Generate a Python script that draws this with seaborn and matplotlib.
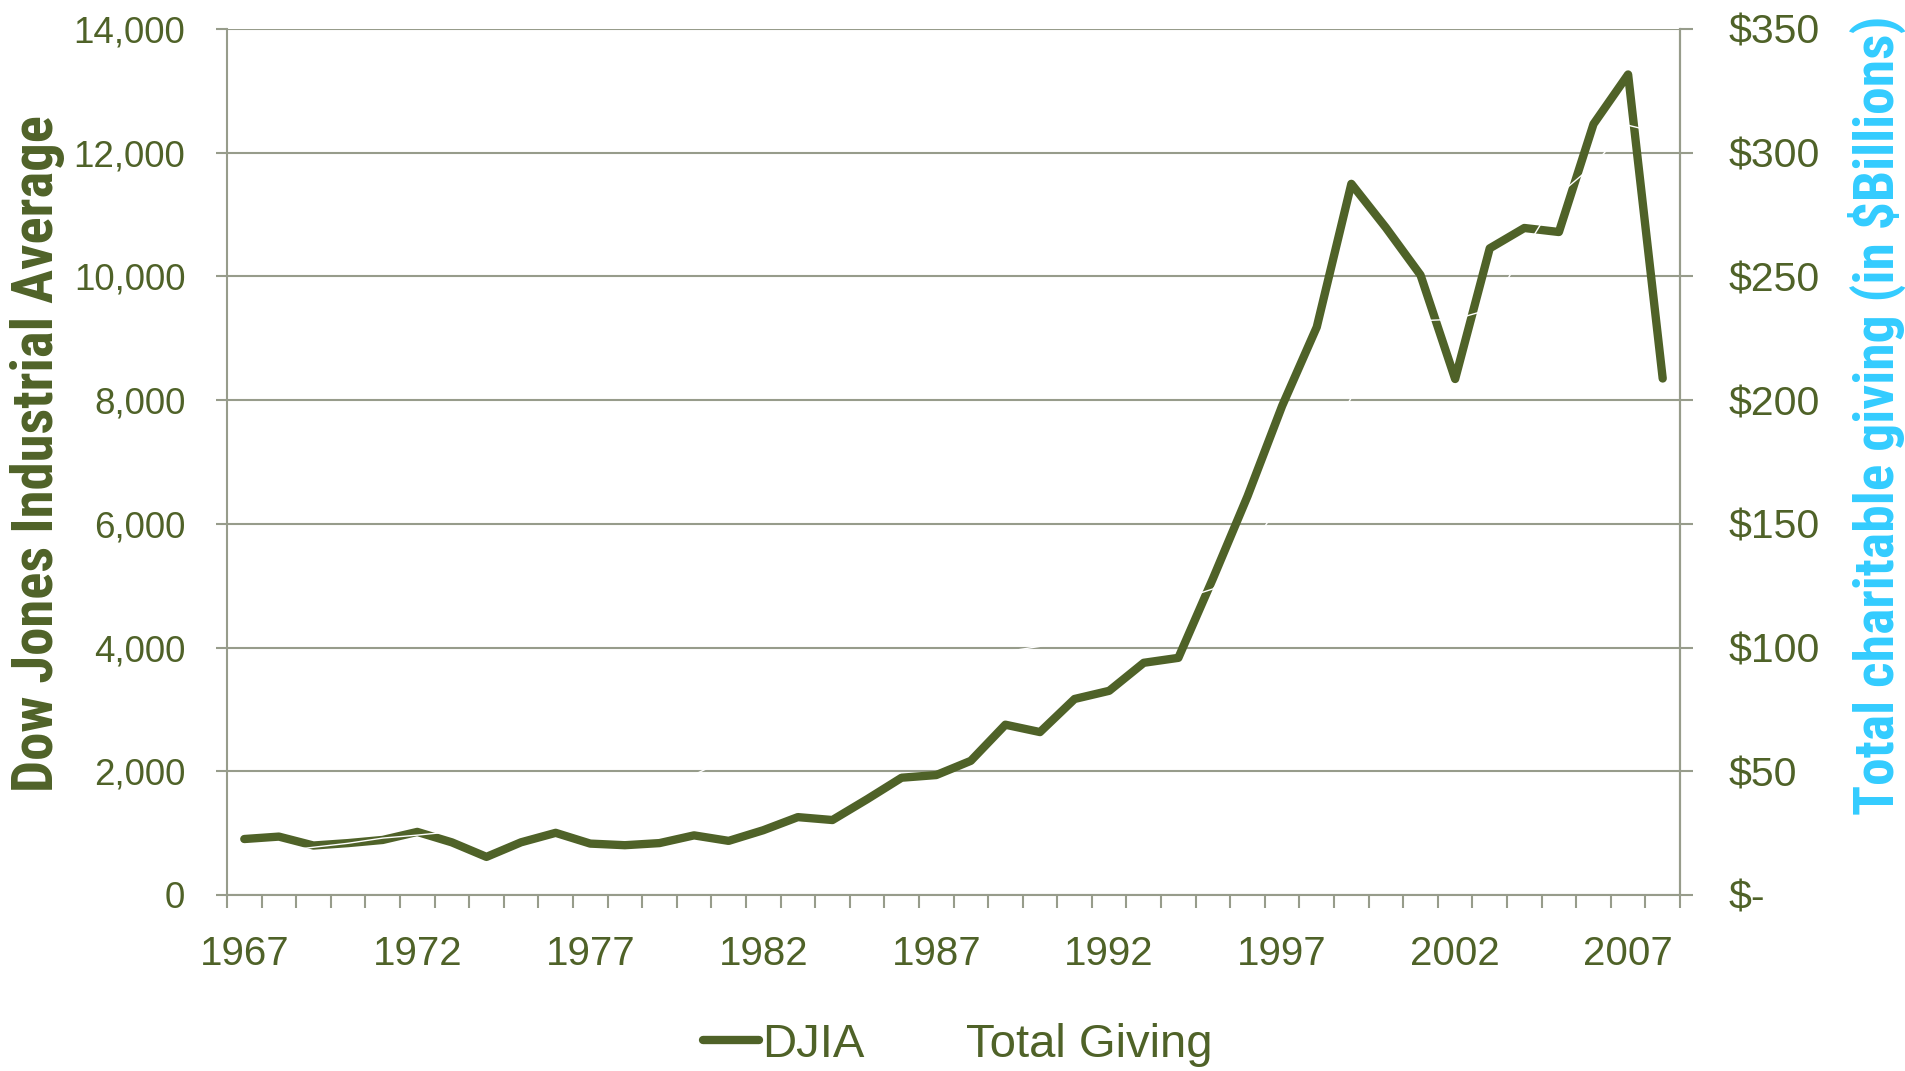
import matplotlib
matplotlib.use("Agg")
import matplotlib.pyplot as plt
from matplotlib.lines import Line2D
from matplotlib.ticker import FuncFormatter, FixedLocator
from matplotlib import font_manager as fm
import seaborn as sns
import pandas as pd
import numpy as np

years = list(range(1967, 2009))
djia = [905, 944, 800, 839, 890, 1020, 851, 616, 852, 1005,
        831, 805, 839, 964, 875, 1047, 1259, 1212, 1547, 1896,
        1939, 2169, 2753, 2634, 3169, 3301, 3754, 3834, 5117, 6448,
        7908, 9181, 11497, 10787, 10022, 8342, 10454, 10783, 10718, 12463,
        13265, 8350]
giving = [15.8, 17.6, 19.3, 20.9, 23.0, 24.2, 25.6, 26.9, 28.6, 31.9,
          35.2, 38.6, 43.1, 48.6, 55.3, 59.1, 63.2, 68.6, 71.7, 83.3,
          82.2, 88.0, 98.3, 100.5, 104.9, 111.8, 116.6, 119.2, 123.7, 138.6,
          159.4, 177.4, 201.0, 229.7, 232.1, 232.7, 236.7, 260.3, 283.1, 294.9,
          311.1, 307.7]
year_labels = [1967, 1972, 1977, 1982, 1987, 1992, 1997, 2002, 2007]
left_ticks = list(range(0, 14001, 2000))
right_ticks = list(range(0, 351, 50))

df = pd.DataFrame({"year": years, "djia": djia, "giving": giving})

OLIVE = "#4F6228"
GRID = "#979C8B"
CYAN = "#33CCFF"

sns.set_theme(style="white")
plt.rcParams["font.family"] = ["Liberation Sans", "DejaVu Sans"]

# pick a condensed bold font if one is installed
cond_props = None
names = {f.name for f in fm.fontManager.ttflist}
for cand in ["Liberation Sans Narrow", "Roboto Condensed", "Open Sans Condensed",
             "DejaVu Sans Condensed", "Noto Sans Condensed"]:
    if cand in names:
        cond_props = dict(family=[cand, "DejaVu Sans"])
        break
if cond_props is None:
    fp = fm.FontProperties(family="DejaVu Sans", weight="bold", stretch="condensed")
    path = fm.findfont(fp, fallback_to_default=True)
    if "Condensed" in path:
        cond_props = dict(family=["DejaVu Sans"], stretch="condensed")
    else:
        cond_props = dict(family=["Liberation Sans", "DejaVu Sans"])

fig = plt.figure(figsize=(19.05, 10.71), dpi=100)
ax = fig.add_axes([227/1905, 1-895/1071, (1680-227)/1905, (895-29)/1071])
ax2 = ax.twinx()

sns.lineplot(data=df, x="year", y="djia", ax=ax, color=OLIVE, linewidth=6.0,
             solid_capstyle="round", legend=False)
sns.lineplot(data=df, x="year", y="giving", ax=ax2, color="white", linewidth=1.0,
             legend=False)

ax.set_xlim(1966.5, 2008.5)
ax.set_ylim(0, 14000)
ax2.set_ylim(0, 350)

ax.xaxis.set_major_locator(FixedLocator(year_labels))
ax.xaxis.set_minor_locator(FixedLocator(np.arange(1966.5, 2009, 1.0)))
ax.tick_params(axis="x", which="major", length=0, pad=29, labelsize=29, labelcolor=OLIVE)
ax.tick_params(axis="x", which="minor", length=9, width=1.5, color=GRID, direction="out", bottom=True)

ax.yaxis.set_major_locator(FixedLocator(left_ticks))
ax.yaxis.set_major_formatter(FuncFormatter(lambda v, p: f"{int(v):,}"))
ax.tick_params(axis="y", which="major", length=8, width=1.5, color=GRID, direction="out",
               pad=22, labelsize=26.5, labelcolor=OLIVE, left=True)
ax.grid(True, axis="y", color=GRID, linewidth=1.5)
ax.grid(False, axis="x")

ax2.yaxis.set_major_locator(FixedLocator(right_ticks))
ax2.yaxis.set_major_formatter(FuncFormatter(lambda v, p: "$-" if v == 0 else f"${int(v)}"))
ax2.tick_params(axis="y", which="major", length=9, width=1.5, color=GRID, direction="out",
                pad=26, labelsize=29.5, labelcolor=OLIVE, right=True)
ax2.grid(False)
for lab in ax2.get_yticklabels():
    lab.set_ha("left")

for a in (ax, ax2):
    a.spines["top"].set_visible(False)
    for s in ("left", "right", "bottom"):
        a.spines[s].set_color(GRID)
        a.spines[s].set_linewidth(1.5)
ax2.spines["left"].set_visible(False)
ax2.spines["bottom"].set_visible(False)

ax.set_xlabel("")
ylab = ax.set_ylabel("Dow Jones Industrial Average", fontsize=36, fontweight="bold",
                     color=OLIVE, va="center", ha="center", **cond_props)
ax.yaxis.set_label_coords(-0.1307, 0.510)
ylab2 = ax2.set_ylabel("Total charitable giving (in $Billions)", fontsize=36, fontweight="bold",
                       color=CYAN, rotation=90, va="center", ha="center", **cond_props)
ax2.yaxis.set_label_coords(1.1355, 0.554)

# fit axis-title lengths to the reference
fig.canvas.draw()
r = fig.canvas.get_renderer()
for lab, target in ((ylab, 677), (ylab2, 800)):
    h = lab.get_window_extent(r).height
    lab.set_fontsize(min(48, 36 * target / h))

handles = [Line2D([0], [0], color=OLIVE, linewidth=6.0, solid_capstyle="round"),
           Line2D([0], [0], color="white", linewidth=1.0)]
fig.legend(handles, ["DJIA", "Total Giving"], loc="center", bbox_to_anchor=(0.503, 0.0243),
           ncol=2, frameon=False, fontsize=34, labelcolor=OLIVE, handlelength=1.17,
           handletextpad=0.08, columnspacing=0.9)

fig.savefig("out.png", dpi=100)
